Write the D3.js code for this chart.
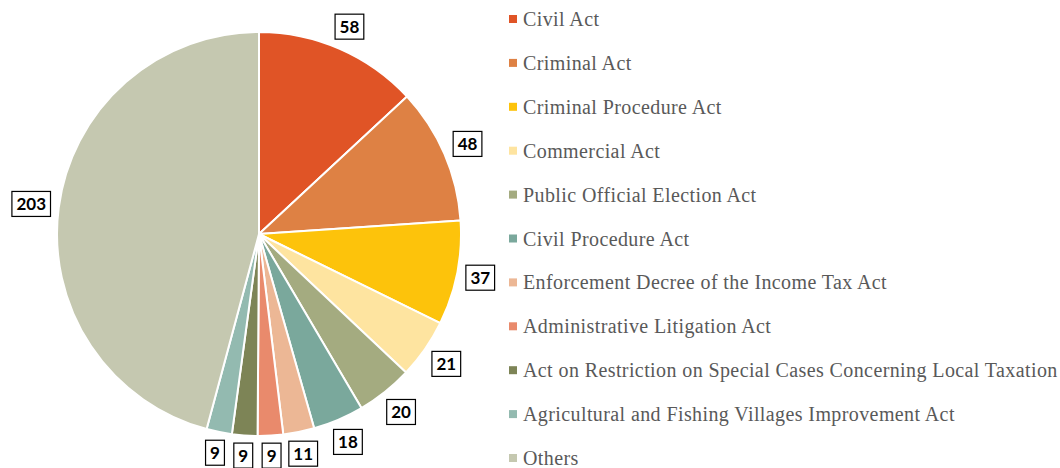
<!DOCTYPE html>
<html lang="en">
<head>
  <meta charset="UTF-8">
  <title>Pie</title>
  <style>
    html, body { margin: 0; background: #fff; width: 1060px; height: 468px; overflow: hidden; }
    .lbl { font-family: "Lato", "Liberation Sans", sans-serif; font-weight: bold; font-size: 17px; fill: #000; }
    .leg { font-family: "Liberation Serif", "DejaVu Serif", serif; font-size: 20px; letter-spacing: 0.4px; fill: #595959; }
  </style>
</head>
<body>
<div id="container"></div>
<script src="https://cdnjs.cloudflare.com/ajax/libs/d3/7.8.5/d3.min.js"></script>
<script>
var categories = [
  "Civil Act", "Criminal Act", "Criminal Procedure Act", "Commercial Act",
  "Public Official Election Act", "Civil Procedure Act",
  "Enforcement Decree of the Income Tax Act", "Administrative Litigation Act",
  "Act on Restriction on Special Cases Concerning Local Taxation",
  "Agricultural and Fishing Villages Improvement Act", "Others"
];
var values = [58, 48, 37, 21, 20, 18, 11, 9, 9, 9, 203];
var colors = ["#e05426", "#de8144", "#fdc30b", "#fee4a0", "#a4ab80", "#7aa89c",
              "#ecb795", "#e98a6c", "#7d8456", "#93bab0", "#c5c8b0"];

var width = 1060, height = 468;
var cx = 259, cy = 234, r = 202;

var svg = d3.select('#container').append('svg')
  .attr('width', width)
  .attr('height', height);

var data = categories.map(function(c, i) { return { name: c, value: values[i], color: colors[i] }; });

var pie = d3.pie().value(d => d.value).sort(null);
var arc = d3.arc().innerRadius(0).outerRadius(r);
var arcs = pie(data);

var g = svg.append('g').attr('transform', 'translate(' + cx + ',' + cy + ')');

g.selectAll('path')
  .data(arcs)
  .enter().append('path')
  .attr('d', arc)
  .attr('fill', d => d.data.color)
  .attr('stroke', '#fff')
  .attr('stroke-width', 2)
  .attr('stroke-linejoin', 'round');

// data labels in boxes, outside the pie
var labels = g.selectAll('g.label')
  .data(arcs)
  .enter().append('g')
  .attr('class', 'label');

labels.each(function(d) {
  var sel = d3.select(this);
  var txt = sel.append('text')
    .attr('class', 'lbl')
    .attr('text-anchor', 'middle')
    .attr('dy', '0.36em')
    .text(d.data.value);
  var w = txt.node().getComputedTextLength() + 9;
  var h = 25;
  var a = (d.startAngle + d.endAngle) / 2;
  var s = Math.sin(a), c = Math.cos(a);
  var ext = Math.abs(w / 2 * s) + Math.abs(h / 2 * c);
  var R = r + 7 + ext;
  var x = R * s, y = -R * c;
  sel.attr('transform', 'translate(' + x + ',' + y + ')');
  sel.insert('rect', 'text')
    .attr('x', -w / 2).attr('y', -h / 2)
    .attr('width', w).attr('height', h)
    .attr('fill', '#fff')
    .attr('stroke', '#000')
    .attr('stroke-width', 1.2);
});

// legend
var legY = d3.scalePoint().domain(categories).range([19, 458]);
var leg = svg.selectAll('g.leg')
  .data(data)
  .enter().append('g')
  .attr('transform', d => 'translate(509,' + legY(d.name) + ')');

leg.append('rect')
  .attr('x', 0).attr('y', -4)
  .attr('width', 8).attr('height', 8)
  .attr('fill', d => d.color);

leg.append('text')
  .attr('class', 'leg')
  .attr('x', 14)
  .attr('dy', '0.35em')
  .text(d => d.name);
</script>
</body>
</html>
